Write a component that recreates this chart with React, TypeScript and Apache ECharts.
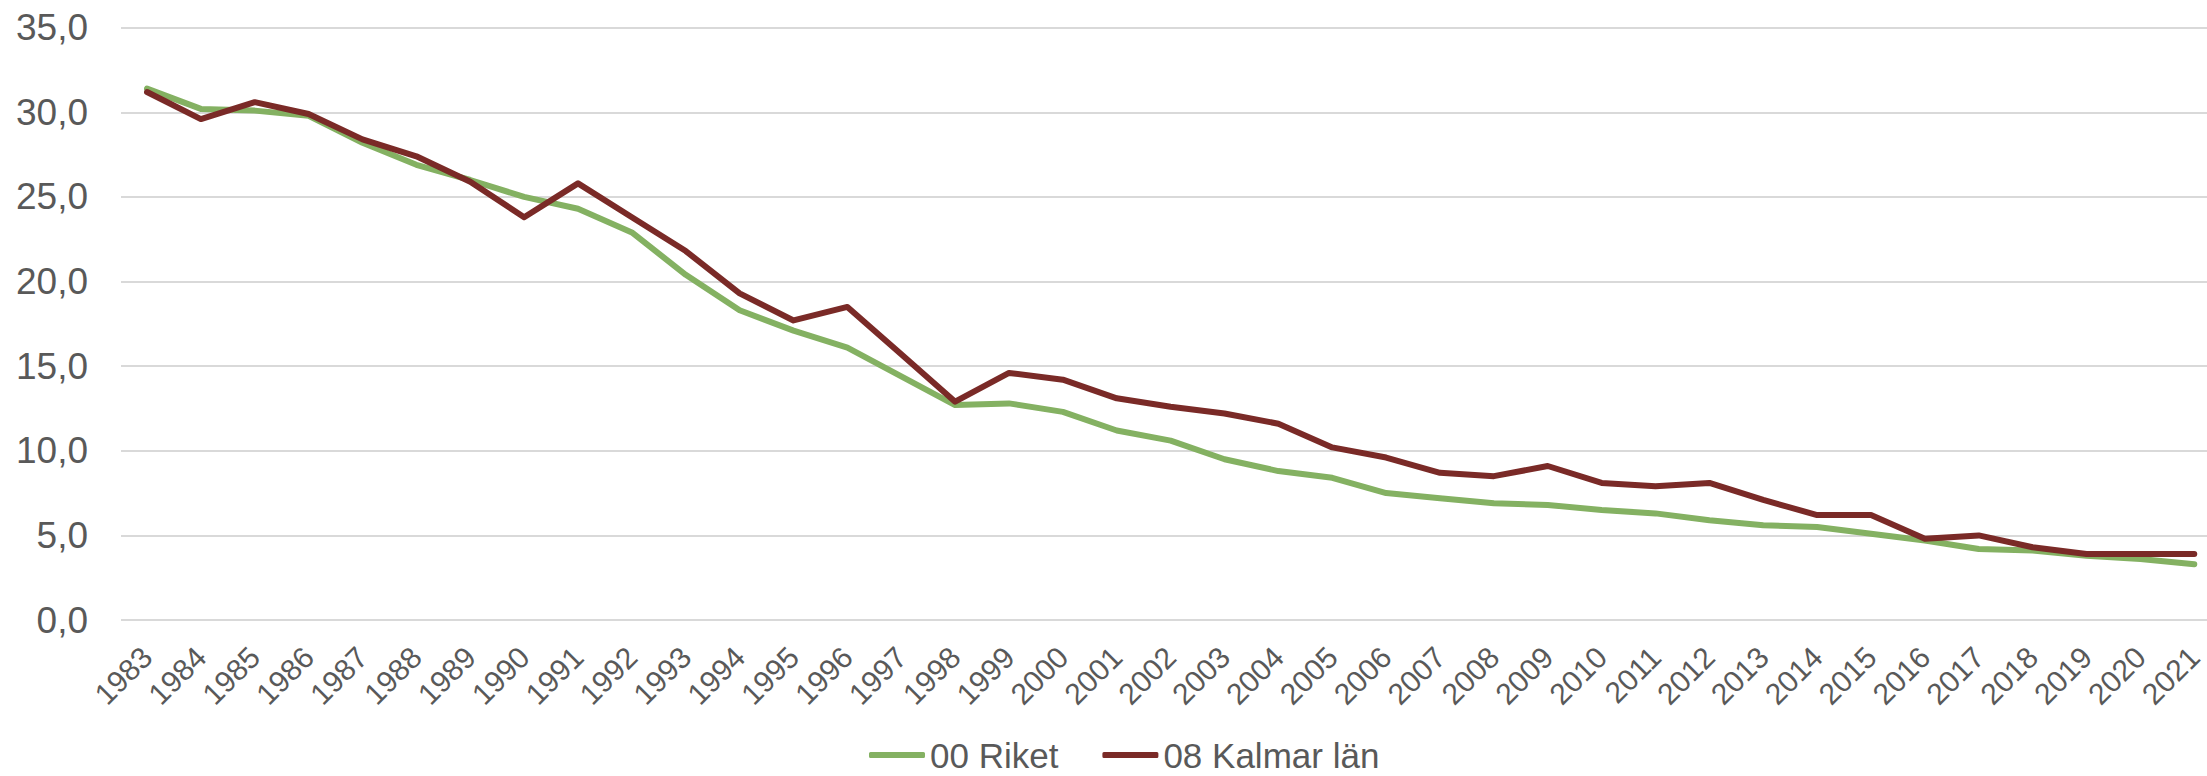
import React, { useEffect, useRef } from "react";
import * as echarts from "echarts";

const years = [
  "1983", "1984", "1985", "1986", "1987", "1988", "1989", "1990", "1991", "1992",
  "1993", "1994", "1995", "1996", "1997", "1998", "1999", "2000", "2001", "2002",
  "2003", "2004", "2005", "2006", "2007", "2008", "2009", "2010", "2011", "2012",
  "2013", "2014", "2015", "2016", "2017", "2018", "2019", "2020", "2021",
];

const riket = [
  31.4, 30.2, 30.1, 29.8, 28.2, 26.9, 26.0, 25.0, 24.3, 22.9,
  20.4, 18.3, 17.1, 16.1, 14.4, 12.7, 12.8, 12.3, 11.2, 10.6,
  9.5, 8.8, 8.4, 7.5, 7.2, 6.9, 6.8, 6.5, 6.3, 5.9,
  5.6, 5.5, 5.1, 4.7, 4.2, 4.1, 3.8, 3.6, 3.3,
];

const kalmar = [
  31.2, 29.6, 30.6, 29.9, 28.4, 27.4, 25.9, 23.8, 25.8, 23.8,
  21.8, 19.3, 17.7, 18.5, 15.7, 12.9, 14.6, 14.2, 13.1, 12.6,
  12.2, 11.6, 10.2, 9.6, 8.7, 8.5, 9.1, 8.1, 7.9, 8.1,
  7.1, 6.2, 6.2, 4.8, 5.0, 4.3, 3.9, 3.9, 3.9,
];

const seriesNames = ["00 Riket", "08 Kalmar län"];
const seriesColors = ["#84B162", "#7A2A27"];

const FONT = "'Liberation Sans', Arial, Helvetica, sans-serif";
const TEXT = "#595959";

export default function App() {
  const ref = useRef<HTMLDivElement>(null);

  useEffect(() => {
    if (!ref.current) return;
    const chart = echarts.init(ref.current, null, { renderer: "svg" });
    const dataSets = [riket, kalmar];
    chart.setOption({
      animation: false,
      backgroundColor: "#ffffff",
      textStyle: { fontFamily: FONT },
      grid: [
        { left: 121, right: 0, top: 27.7, height: 592.3, containLabel: false },
        { left: 147, right: 6, top: 27.7, height: 592.3, containLabel: false },
      ],
      legend: {
        show: true,
        left: 869,
        top: 737,
        padding: 0,
        itemWidth: 56,
        itemHeight: 6,
        itemGap: 44,
        icon: "roundRect",
        textStyle: { fontSize: 35, color: TEXT, fontFamily: FONT, lineHeight: 36 },
        data: seriesNames,
      },
      xAxis: [
        {
          type: "category",
          gridIndex: 0,
          data: years,
          show: false,
        },
        {
          type: "category",
          gridIndex: 1,
          data: years,
          boundaryGap: false,
          axisLine: { show: false },
          axisTick: { show: false },
          axisLabel: {
            interval: 0,
            rotate: 45,
            fontSize: 30,
            color: TEXT,
            fontFamily: FONT,
            margin: 32,
          },
          splitLine: { show: false },
        },
      ],
      yAxis: [
        {
          type: "value",
          gridIndex: 0,
          min: 0,
          max: 35,
          interval: 5,
          axisLine: { show: false },
          axisTick: { show: false },
          axisLabel: {
            fontSize: 37,
            color: TEXT,
            fontFamily: FONT,
            margin: 33,
            formatter: (v: number) => v.toFixed(1).replace(".", ","),
          },
          splitLine: { lineStyle: { color: "#D9D9D9", width: 2 } },
        },
        {
          type: "value",
          gridIndex: 1,
          min: 0,
          max: 35,
          interval: 5,
          show: false,
          splitLine: { show: false },
        },
      ],
      series: seriesNames.map((name, i) => ({
        name,
        type: "line",
        xAxisIndex: 1,
        yAxisIndex: 1,
        data: dataSets[i],
        symbol: "none",
        showSymbol: false,
        color: seriesColors[i],
        lineStyle: { color: seriesColors[i], width: 6, cap: "round", join: "round" },
        z: 2 + i,
      })),
    });
    return () => chart.dispose();
  }, []);

  return (
    <div
      ref={ref}
      style={{ position: "absolute", left: 0, top: 0, width: 2207, height: 776, background: "#fff" }}
    />
  );
}
